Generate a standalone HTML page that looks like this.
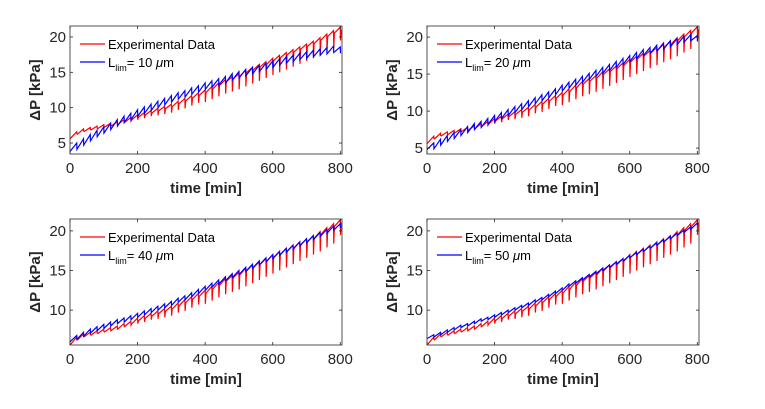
<!DOCTYPE html>
<html><head><meta charset="utf-8"><style>
body{margin:0;background:#fff;width:765px;height:404px;overflow:hidden}
svg{font-family:"Liberation Sans",Arial,sans-serif}
</style></head><body>
<svg id="fig" width="765" height="404"></svg>
<script>
const times = [0,20,40,60,80,100,120,140,160,180,200,220,240,260,280,300,320,340,360,380,400,420,440,460,480,500,520,540,560,580,600,620,640,660,680,700,720,740,760,780,800];
const expPeak = [5.9,6.6,7.0,7.2,7.4,7.6,7.8,8.0,8.3,8.6,9.0,9.3,9.6,9.9,10.2,10.5,10.9,11.3,11.7,12.1,12.5,13.0,13.5,14.0,14.4,14.8,15.3,15.7,16.1,16.5,17.0,17.4,17.8,18.2,18.6,19.0,19.4,19.9,20.4,20.9,21.4];
const expTrough = [5.6,6.3,6.7,6.9,7.1,7.3,7.4,7.6,7.9,8.1,8.3,8.5,8.8,8.9,9.1,9.3,9.7,9.9,10.3,10.7,10.8,11.2,11.6,12.0,12.3,12.6,13.0,13.4,13.8,14.2,14.6,15.0,15.4,15.8,16.2,16.6,17.0,17.4,17.9,18.4,19.5];
const m10Peak = [4.3,5.0,5.6,6.2,6.8,7.3,7.8,8.3,8.8,9.2,9.7,10.1,10.5,10.9,11.3,11.7,12.1,12.4,12.8,13.1,13.5,13.8,14.1,14.4,14.8,15.1,15.4,15.7,16.0,16.3,16.6,16.9,17.2,17.4,17.7,17.9,18.1,18.3,18.5,18.7,18.6];
const m20Peak = [5.2,5.7,6.2,6.7,7.1,7.5,7.9,8.3,8.6,9.0,9.4,9.8,10.2,10.6,11.0,11.4,11.8,12.2,12.6,13.0,13.5,13.9,14.3,14.7,15.1,15.5,15.9,16.3,16.7,17.1,17.5,17.9,18.3,18.6,18.9,19.2,19.5,19.8,20.1,20.3,20.2];
const m40Peak = [6.3,6.8,7.2,7.6,7.9,8.2,8.5,8.8,9.0,9.3,9.6,9.9,10.2,10.5,10.8,11.1,11.5,11.8,12.2,12.6,13.0,13.4,13.8,14.2,14.6,15.0,15.4,15.8,16.2,16.6,17.0,17.4,17.8,18.2,18.6,19.0,19.4,19.8,20.2,20.6,20.9];
const m50Peak = [6.6,6.9,7.2,7.5,7.8,8.1,8.3,8.6,8.9,9.1,9.4,9.7,10.0,10.3,10.6,10.9,11.3,11.6,12.0,12.4,12.8,13.3,13.7,14.1,14.5,14.9,15.3,15.7,16.1,16.5,16.9,17.3,17.7,18.1,18.5,18.9,19.3,19.7,20.1,20.5,21.0];
const modelStart = [3.8,4.8,6.0,6.4];
const modelDrop = [0.9,0.8,0.5,0.3];
const lims = [10,20,40,50];
const xTicks = [0,200,400,600,800];
const yTicksTop = [5,10,15,20];
const yTicksBot = [10,15,20];

const NS="http://www.w3.org/2000/svg";
const svg=document.getElementById('fig');
function mk(tag,attrs,parent){const e=document.createElementNS(NS,tag);for(const k in attrs)e.setAttribute(k,attrs[k]);(parent||svg).appendChild(e);return e;}

const panels=[
 {x0:70,x1:342,y0:26,y1:154,ymin:3.45,ymax:21.55,yt:yTicksTop,m:m10Peak},
 {x0:427,x1:699,y0:26,y1:154,ymin:4.2,ymax:21.5,yt:yTicksTop,m:m20Peak},
 {x0:70,x1:342,y0:219,y1:345,ymin:5.6,ymax:21.5,yt:yTicksBot,m:m40Peak},
 {x0:427,x1:699,y0:219,y1:345,ymin:5.6,ymax:21.5,yt:yTicksBot,m:m50Peak}
];
panels.forEach((p,i)=>{
 const g=mk('g',{});
 
 
 const sx=t=>p.x0+(t/805)*(p.x1-p.x0);
 const sy=v=>p.y1-(v-p.ymin)/(p.ymax-p.ymin)*(p.y1-p.y0);
 const cid='clip'+i;
 const cp=mk('clipPath',{id:cid},g);mk('rect',{x:p.x0,y:p.y0,width:p.x1-p.x0,height:p.y1-p.y0},cp);
 let d='M'+sx(times[0])+','+sy(expTrough[0]);
 for(let k=1;k<times.length;k++){
  d+=' L'+sx(times[k])+','+sy(expPeak[k])+' L'+sx(times[k]+0.6)+','+sy(expTrough[k])+' L'+sx(times[k]+2.5)+','+sy(expPeak[k]-0.35);
 }
 const e=mk('path',{d:d,fill:'none',stroke:'#ff0000','stroke-width':1.2,'clip-path':'url(#'+cid+')'},g);
 
 
 let d2='M'+sx(times[0])+','+sy(modelStart[i]);
 for(let k=1;k<times.length;k++){d2+=' L'+sx(times[k])+','+sy(p.m[k])+' L'+sx(times[k]+0.5)+','+sy(p.m[k]-modelDrop[i]);}
 const m=mk('path',{d:d2,fill:'none',stroke:'#0000ff','stroke-width':1.2,'clip-path':'url(#'+cid+')'},g);
 
 
 const box=mk('rect',{x:p.x0,y:p.y0,width:p.x1-p.x0,height:p.y1-p.y0,fill:'none',stroke:'#262626','stroke-width':0.8},g);
 
 
 xTicks.forEach(t=>{
  const x=sx(t);
  mk('line',{x1:x,x2:x,y1:p.y1,y2:p.y1-3,stroke:'#262626','stroke-width':0.8},g);
  mk('line',{x1:x,x2:x,y1:p.y0,y2:p.y0+3,stroke:'#262626','stroke-width':0.8},g);
  const tl=mk('text',{x:x,y:p.y1+19,'text-anchor':'middle','font-size':15,fill:'#262626'},g);
  tl.textContent=t;
  
  
 });
 p.yt.forEach(v=>{
  const y=sy(v);
  mk('line',{x1:p.x0,x2:p.x0+3,y1:y,y2:y,stroke:'#262626','stroke-width':0.8},g);
  mk('line',{x1:p.x1,x2:p.x1-3,y1:y,y2:y,stroke:'#262626','stroke-width':0.8},g);
  const tl=mk('text',{x:p.x0-4,y:y+5,'text-anchor':'end','font-size':15,fill:'#262626'},g);
  tl.textContent=v;
  
  
 });
 const xl=mk('text',{x:(p.x0+p.x1)/2,y:p.y1+39,'text-anchor':'middle','font-size':15,'font-weight':'bold',fill:'#262626'},g);
 xl.textContent='time [min]';
 
 
 const cy=(p.y0+p.y1)/2;
 const yl=mk('text',{x:p.x0-30,y:cy,'text-anchor':'middle','font-size':15,'font-weight':'bold',fill:'#262626',transform:'rotate(-90 '+(p.x0-30)+' '+cy+')'},g);
 yl.textContent='ΔP [kPa]';
 
 
 const lg=mk('g',{},g);
 
 
 const lx=p.x0+10, ly=p.y0+18;
 mk('line',{x1:lx,x2:lx+25,y1:ly,y2:ly,stroke:'#ff0000','stroke-width':1.2},lg);
 const t1=mk('text',{x:lx+28,y:ly+5,'font-size':13,fill:'#000'},lg);
 t1.textContent='Experimental Data';
 
 
 mk('line',{x1:lx,x2:lx+25,y1:ly+18,y2:ly+18,stroke:'#0000ff','stroke-width':1.2},lg);
 const t2=mk('text',{x:lx+28,y:ly+23,'font-size':13,fill:'#000'},lg);
 t2.innerHTML='L<tspan font-size="9" dy="4">lim</tspan><tspan dy="-4">= '+lims[i]+' </tspan><tspan font-style="italic">μ</tspan>m';
 
 
});
</script>
</body></html>
